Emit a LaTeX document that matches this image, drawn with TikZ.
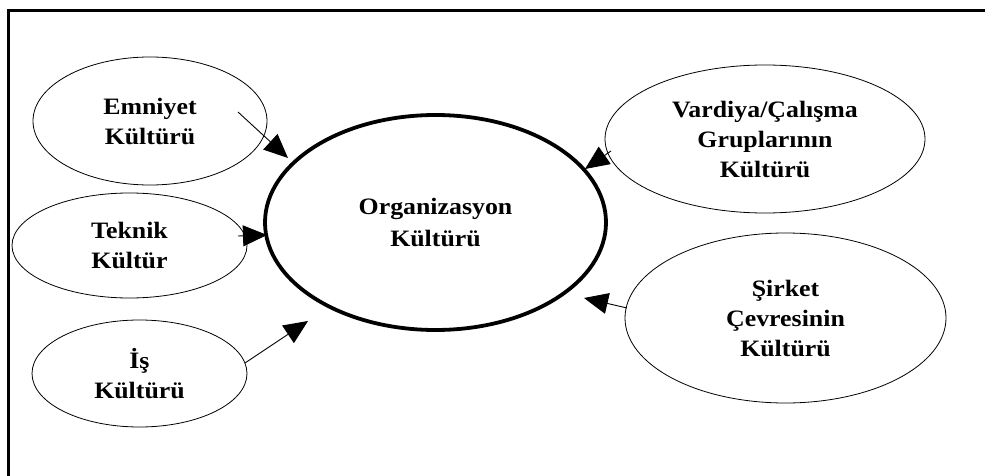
\documentclass[tikz,border=0pt]{standalone}
\usepackage{fontspec}
\setmainfont{Liberation Serif}[FakeStretch=1.1]
\usetikzlibrary{shapes.geometric,arrows.meta}
\begin{document}
\begin{tikzpicture}[x=1pt,y=-1pt,
  bubble/.style={ellipse,draw,line width=0.8pt,inner sep=0pt,align=center,
    font=\fontsize{23.5}{30}\selectfont\bfseries},
  core/.style={bubble,line width=3.8pt,font=\fontsize{23.5}{32}\selectfont\bfseries},
  feed/.style={line width=0.9pt,-{Triangle[length=24pt,width=21pt]}}]
  \useasboundingbox (0,0) rectangle (985,476);
  % open frame: top and left edges only
  \draw[line width=3pt] (8,476) -- (8,10.5) -- (985,10.5);

  % surrounding cultures
  \node[bubble,minimum width=234,minimum height=128] (emn) at (150,121) {Emniyet\\Kültürü};
  \node[bubble,minimum width=235,minimum height=105] (tek) at (129.5,245.5) {Teknik\\Kültür};
  \node[bubble,minimum width=215,minimum height=107] (is) at (139.5,373.5) {İş\\Kültürü};
  \node[bubble,minimum width=320,minimum height=148] (var) at (765,139) {Vardiya/Çalışma\\Gruplarının\\Kültürü};
  \node[bubble,minimum width=321,minimum height=170] (sir) at (785.5,318) {Şirket\\Çevresinin\\Kültürü};

  % central culture
  \node[core,minimum width=341,minimum height=215] (org) at (435.5,222.5) {Organizasyon\\Kültürü};

  % arrow end points
  \coordinate (emnA) at (238,112);  \coordinate (emnB) at (288,158);
  \coordinate (tekA) at (238,236);  \coordinate (tekB) at (267,235);
  \coordinate (isA)  at (245,363);  \coordinate (isB)  at (308,321);
  \coordinate (varA) at (611,151);  \coordinate (varB) at (585,169);
  \coordinate (sirA) at (627,308);  \coordinate (sirB) at (584,298);

  \draw[feed] (emnA) -- (emnB);
  \draw[feed] (tekA) -- (tekB);
  \draw[feed] (isA) -- (isB);
  \draw[feed] (varA) -- (varB);
  \draw[feed] (sirA) -- (sirB);
\end{tikzpicture}
\end{document}
